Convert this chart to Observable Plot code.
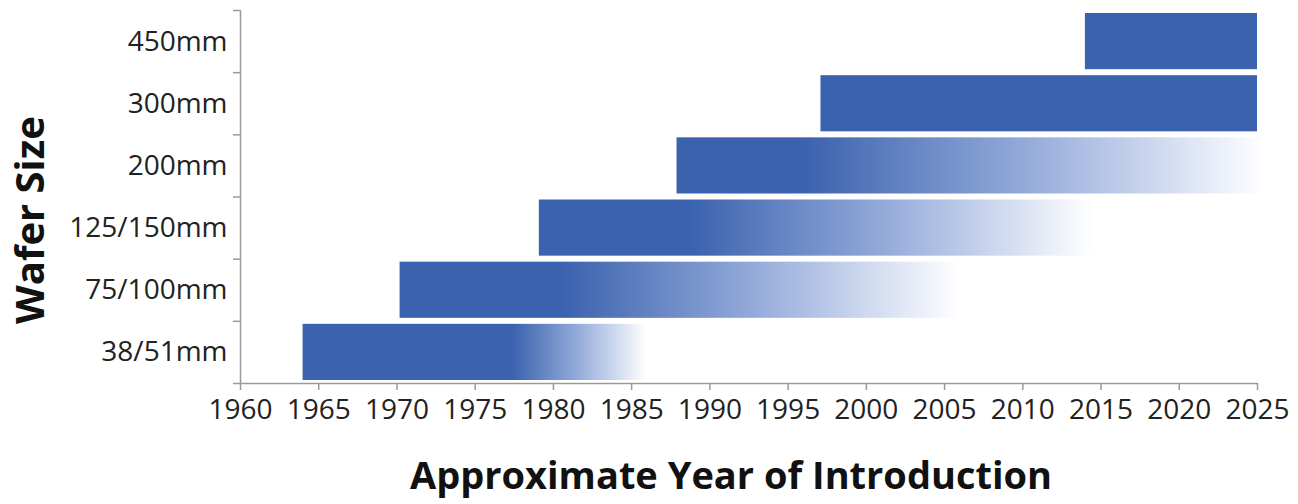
<!DOCTYPE html>
<html>
<head>
<meta charset="utf-8">
<script src="https://cdn.jsdelivr.net/npm/d3@7"></script>
<script src="https://cdn.jsdelivr.net/npm/@observablehq/plot@0.6"></script>
<style>
  html, body { margin: 0; padding: 0; background: #fff; }
  svg { display: block; }
</style>
</head>
<body>
<div id="chart"></div>
<script>
// Wafer sizes, bottom to top
const sizes = ["38/51mm", "75/100mm", "125/150mm", "200mm", "300mm", "450mm"];
// Approximate year of introduction (bar start)
const starts = [1964, 1970.2, 1979.1, 1987.9, 1997.1, 2014];
// Year where the bar begins fading out (null = solid bar)
const fadeStarts = [1977.4, 1980.6, 1988.8, 1996, null, null];
// Year where the bar ends (fully faded for gradient bars)
const ends = [1986, 2006, 2014.5, 2025.5, 2025, 2025];
// x tick years
const xTicks = [1960, 1965, 1970, 1975, 1980, 1985, 1990, 1995, 2000, 2005, 2010, 2015, 2020, 2025];

const BLUE = "#3b62ae";
const AXIS = "#9a9a9a";
const FONT = "'Open Sans', sans-serif";

const rows = sizes.map((s, i) => ({
  size: s, i,
  start: starts[i], fadeStart: fadeStarts[i], end: ends[i],
  fill: fadeStarts[i] == null ? BLUE : `url(#wgrad${i})`
}));

const defs = () => {
  const d = d3.create("svg:defs");
  rows.filter(r => r.fadeStart != null).forEach(r => {
    const off = (r.fadeStart - r.start) / (r.end - r.start);
    const g = d.append("linearGradient").attr("id", `wgrad${r.i}`)
      .attr("x1", 0).attr("x2", 1).attr("y1", 0).attr("y2", 0);
    g.append("stop").attr("offset", 0).attr("stop-color", BLUE);
    g.append("stop").attr("offset", off).attr("stop-color", BLUE);
    g.append("stop").attr("offset", off + (1 - off) * 0.5).attr("stop-color", "#97addb");
    g.append("stop").attr("offset", 1).attr("stop-color", "#ffffff");
  });
  return d.node();
};

const chart = Plot.plot({
  width: 1298,
  height: 504,
  marginLeft: 240,
  marginRight: 41,
  marginTop: 10,
  marginBottom: 121,
  style: { fontFamily: FONT, background: "#fff", overflow: "visible" },
  x: { domain: [1960, 2025] },
  y: { domain: [0, 6] },
  color: { type: "identity" },
  marks: [
    defs,
    Plot.rectX(rows, {
      x1: "start", x2: "end",
      y1: d => d.i, y2: d => d.i + 1,
      insetTop: 3, insetBottom: 3,
      fill: "fill"
    }),
    Plot.ruleX([1960], { stroke: AXIS, strokeWidth: 1.5 }),
    Plot.ruleY([0], { stroke: AXIS, strokeWidth: 1.5 }),
    Plot.axisY({
      ticks: d3.range(0, 7), tickSize: 7, tickFormat: () => "",
      stroke: AXIS, strokeWidth: 1.5
    }),
    Plot.axisY({
      ticks: d3.range(0, 6).map(i => i + 0.5), tickSize: 0, tickPadding: 13,
      tickFormat: v => sizes[Math.floor(v)],
      fontSize: 28, fill: "#222", label: null
    }),
    Plot.axisX({
      ticks: xTicks, tickSize: 7, tickFormat: d => String(d),
      stroke: AXIS, strokeWidth: 1.5, tickPadding: 9,
      fontSize: 28, fill: "#222", label: null
    }),
    Plot.text(["Approximate Year of Introduction"], {
      frameAnchor: "bottom", dy: 105, dx: -18,
      fontSize: 38, fontWeight: "bold", fill: "#111", fontFamily: FONT
    }),
    Plot.text(["Wafer Size"], {
      frameAnchor: "left", textAnchor: "middle", dx: -209, dy: 23, rotate: -90,
      fontSize: 40, fontWeight: "bold", fill: "#111", fontFamily: FONT
    })
  ]
});
document.getElementById("chart").appendChild(chart);
</script>
</body>
</html>
